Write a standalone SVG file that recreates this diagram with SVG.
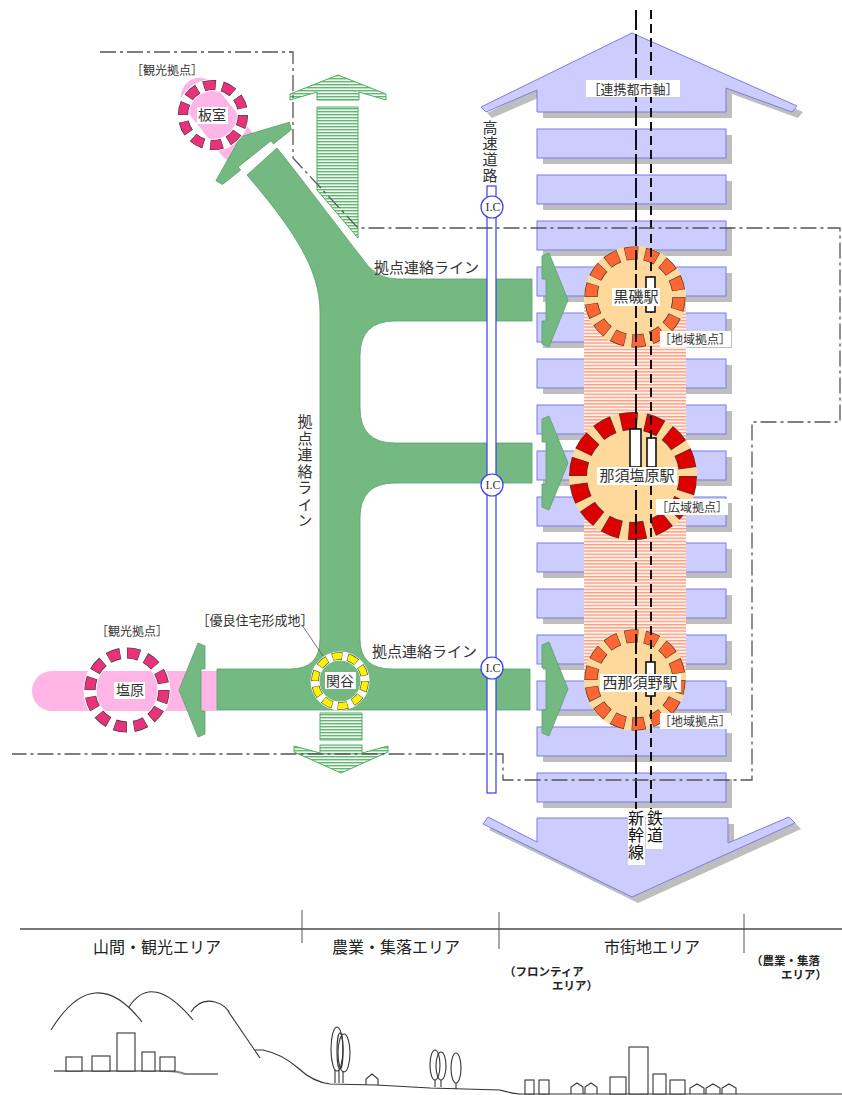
<svg xmlns="http://www.w3.org/2000/svg" width="842" height="1095" viewBox="0 0 842 1095">
  <style>
    .lbl { font-family: "Noto Sans CJK JP", "Noto Sans", sans-serif; fill: #333; }
    .area { font-family: "Noto Sans CJK JP", "Noto Sans", sans-serif; fill: #222; }
    .sub { font-family: "Noto Sans CJK JP", "Noto Sans", sans-serif; fill: #222; font-weight: bold; font-size: 11.5px; }
    .vert { writing-mode: vertical-rl; }
    .bar { fill: #CCCCFF; stroke: #7B7BEA; stroke-width: 1; }
    .shadow { fill: #BEBEBE; }
    .road { fill: #74B982; stroke: #5C9F6B; stroke-width: 0.8; }
    .hatch { fill: url(#greenHatch); stroke: #4FAE60; stroke-width: 1; }
    .bg { fill: #fff; }
    .scene { fill: none; stroke: #333; stroke-width: 1.1; }
    .bldg { fill: #fff; stroke: #333; stroke-width: 1.1; }
    .rail { fill: none; stroke: #111; stroke-width: 2; }
    .hwy { fill: #fff; stroke: #3B3BF0; stroke-width: 1.2; }
    .stn { fill: #fff; stroke: #111; stroke-width: 1.6; }
  </style>
  <defs>
    <pattern id="greenHatch" width="6" height="3" patternUnits="userSpaceOnUse">
      <rect width="6" height="3" fill="#F2FAF3"/>
      <rect y="0" width="6" height="1.4" fill="#63B873"/>
    </pattern>
    <pattern id="salmonHatch" width="6" height="3.2" patternUnits="userSpaceOnUse">
      <rect width="6" height="3.2" fill="#FFF1EB"/>
      <rect y="0" width="6" height="1.3" fill="#FF9C7E"/>
    </pattern>
    <polygon id="chev" class="road" points="542,-44 549,-47 568,0 549,47 542,44 542,21 546,21 546,-21 542,-21"/>
  </defs>

  <!-- area strip along the bottom -->
  <g id="areas">
    <line x1="20" y1="929" x2="842" y2="929" stroke="#777" stroke-width="2"/>
    <line x1="302" y1="910" x2="302" y2="943" stroke="#555" stroke-width="1"/>
    <line x1="499" y1="912" x2="499" y2="949" stroke="#555" stroke-width="1"/>
    <line x1="744" y1="914" x2="744" y2="953" stroke="#555" stroke-width="1"/>
    <text class="area" x="157" y="953" font-size="16" text-anchor="middle">山間・観光エリア</text>
    <text class="area" x="396" y="953" font-size="16" text-anchor="middle">農業・集落エリア</text>
    <text class="area" x="652" y="953" font-size="16" text-anchor="middle">市街地エリア</text>
    <text class="sub" x="504" y="976">（フロンティア</text>
    <text class="sub" x="552" y="990">エリア）</text>
    <text class="sub" x="751" y="965">（農業・集落</text>
    <text class="sub" x="781" y="979">エリア）</text>
  </g>

  <!-- landscape silhouette -->
  <g id="landscape">
    <path class="scene" d="M51,1030 Q94,960 142,1022"/>
    <path class="scene" d="M129,1007 Q152,971 193,1020"/>
    <path class="scene" d="M191,1012 Q200,998 215,1002 Q226,1005 230,1014 L260,1058"/>
    <path class="scene" d="M255,1050 L263,1050 Q282,1054 298,1068 Q313,1082 330,1084 L376,1085 L430,1088 L500,1090 Q510,1093 520,1094 L842,1094"/>
    <path d="M54,1071 L166,1071 Q178,1071 185,1074 L218,1074" fill="none" stroke="#888" stroke-width="2"/>
    <rect class="bldg" x="66" y="1057" width="16" height="14"/>
    <rect class="bldg" x="92" y="1056" width="18" height="15"/>
    <rect class="bldg" x="117" y="1033" width="18" height="38"/>
    <rect class="bldg" x="142" y="1052" width="13" height="19"/>
    <rect class="bldg" x="160" y="1057" width="15" height="14"/>
    <ellipse class="scene" cx="337" cy="1049" rx="6" ry="22"/>
    <ellipse class="scene" cx="344" cy="1053" rx="6" ry="19"/>
    <ellipse class="scene" cx="340" cy="1051" rx="3" ry="18"/>
    <path class="scene" d="M335,1070 V1083 M339,1070 V1083 M343,1071 V1083"/>
    <path class="scene" d="M366,1085 V1079 L372,1074 L378,1079 V1085"/>
    <ellipse class="scene" cx="435" cy="1065" rx="5" ry="15"/>
    <ellipse class="scene" cx="441" cy="1066" rx="5" ry="14"/>
    <ellipse class="scene" cx="456" cy="1068" rx="5" ry="15"/>
    <path class="scene" d="M435,1080 V1087 M441,1080 V1087 M456,1083 V1089"/>
    <rect class="bldg" x="525" y="1080" width="9" height="14"/>
    <rect class="bldg" x="539" y="1080" width="10" height="14"/>
    <path class="scene" d="M571,1094 V1087 L577,1083 L583,1087 V1094 M585,1094 V1087 L591,1083 L597,1087 V1094"/>
    <rect class="bldg" x="610" y="1077" width="16" height="17"/>
    <rect class="bldg" x="629" y="1047" width="19" height="47"/>
    <rect class="bldg" x="653" y="1074" width="13" height="20"/>
    <rect class="bldg" x="670" y="1080" width="15" height="14"/>
    <path class="scene" d="M690,1094 V1088 L697,1084 L704,1088 V1094 M706,1094 V1088 L713,1084 L720,1088 V1094 M722,1094 V1088 L729,1084 L736,1088 V1094"/>
  </g>

  <!-- urban axis: arrows and city blocks -->
  <g id="axis">
    <polygon class="shadow" transform="translate(6,6)" points="632,33 797,106 792,112 726,88 726,112 537,112 537,90 486,112 481,107"/>
    <polygon class="shadow" transform="translate(6,6)" points="537,818 728,818 728,843 789,817 795,823 632,897 483,824 488,817 537,842"/>
    <g class="shadow" transform="translate(6,6)">
      <rect x="537" y="129" width="189" height="29"/><rect x="537" y="175" width="189" height="29"/>
      <rect x="537" y="221" width="189" height="29"/><rect x="537" y="267" width="189" height="29"/>
      <rect x="537" y="313" width="189" height="29"/><rect x="537" y="359" width="189" height="29"/>
      <rect x="537" y="405" width="189" height="29"/><rect x="537" y="451" width="189" height="29"/>
      <rect x="537" y="497" width="189" height="29"/><rect x="537" y="543" width="189" height="29"/>
      <rect x="537" y="589" width="189" height="29"/><rect x="537" y="635" width="189" height="29"/>
      <rect x="537" y="681" width="189" height="29"/><rect x="537" y="727" width="189" height="29"/>
      <rect x="537" y="773" width="189" height="29"/>
    </g>
    <polygon class="bar" points="632,33 797,106 792,112 726,88 726,112 537,112 537,90 486,112 481,107"/>
    <polygon class="bar" points="537,818 728,818 728,843 789,817 795,823 632,897 483,824 488,817 537,842"/>
    <g class="bar">
      <rect x="537" y="129" width="189" height="29"/><rect x="537" y="175" width="189" height="29"/>
      <rect x="537" y="221" width="189" height="29"/><rect x="537" y="267" width="189" height="29"/>
      <rect x="537" y="313" width="189" height="29"/><rect x="537" y="359" width="189" height="29"/>
      <rect x="537" y="405" width="189" height="29"/><rect x="537" y="451" width="189" height="29"/>
      <rect x="537" y="497" width="189" height="29"/><rect x="537" y="543" width="189" height="29"/>
      <rect x="537" y="589" width="189" height="29"/><rect x="537" y="635" width="189" height="29"/>
      <rect x="537" y="681" width="189" height="29"/><rect x="537" y="727" width="189" height="29"/>
      <rect x="537" y="773" width="189" height="29"/>
    </g>
    <rect x="584" y="297" width="102" height="383" fill="url(#salmonHatch)"/>
  </g>

  <!-- tourist corridors -->
  <g id="pink-corridors">
    <rect x="0" y="-19" width="98" height="38" rx="19" fill="#FFB5E6" transform="translate(188,82) rotate(51.5)"/>
    <path d="M217,671 L52,671 A20,20 0 0 0 52,711 L217,711 Z" fill="#FFB5E6"/>
  </g>

  <!-- hub link lines -->
  <g id="links">
    <path class="road" d="M247,175 L277,148 C305,183 340,230 362,258 Q375,279 398,279 L532,279 L532,321 L395,321 Q360,321 360,356 L360,408 Q360,443 395,443 L532,443 L532,483 L395,483 Q360,483 360,518 L360,639 Q360,669 392,669 L530,669 L530,710 L217,710 L217,669 L290,669 Q320,669 320,639 L320,312 C320,268 292,228 247,175 Z"/>
    <use href="#chev" transform="translate(257,157) rotate(-128.5) translate(-542,0)"/>
    <use href="#chev" transform="translate(0,300)"/>
    <use href="#chev" transform="translate(0,463)"/>
    <use href="#chev" transform="translate(0,689)"/>
    <use href="#chev" transform="translate(747,690) scale(-1,1)"/>
    <polygon class="hatch" points="338,75 386,94 386,100 359,92 359,100 317,100 317,92 290,100 290,94"/>
    <polygon class="hatch" points="317,107 358,107 358,238 317,190"/>
    <polygon class="hatch" points="320,713 362,713 362,740 320,740"/>
    <polygon class="hatch" points="320,745 362,745 362,753 388,746 388,752 341,773 294,752 294,746 320,753"/>
  </g>

  <!-- expressway with interchanges -->
  <g id="expressway">
    <rect class="hwy" x="487" y="186" width="9" height="607"/>
    <circle class="hwy" cx="492" cy="207" r="11"/>
    <circle class="hwy" cx="492" cy="485" r="11"/>
    <circle class="hwy" cx="492" cy="668" r="11"/>
    <g font-family="Liberation Serif, serif" font-size="12" fill="#333" text-anchor="middle">
      <text x="493" y="211">I.C</text>
      <text x="493" y="489">I.C</text>
      <text x="493" y="672">I.C</text>
    </g>
    <text class="lbl vert" x="490" y="120" font-size="15" letter-spacing="1">高速道路</text>
  </g>

  <!-- stations -->
  <g id="node-kuroiso">
    <circle cx="635" cy="297" r="51" fill="#FFD99B"/>
    <circle cx="635" cy="297" r="44" fill="none" stroke="#3a3a3a" stroke-width="13.2" pathLength="140" stroke-dasharray="6.6 3.4"/>
    <circle cx="635" cy="297" r="44" fill="none" stroke="#FF6633" stroke-width="11.8" pathLength="140" stroke-dasharray="6.1 3.9" stroke-dashoffset="-0.25"/>
  </g>
  <g id="node-nasushiobara">
    <circle cx="633" cy="476" r="64" fill="#FFD99B"/>
    <circle cx="633" cy="476" r="55" fill="none" stroke="#3a3a3a" stroke-width="18" pathLength="140" stroke-dasharray="6.8 3.2"/>
    <circle cx="633" cy="476" r="55" fill="none" stroke="#DD0000" stroke-width="16.6" pathLength="140" stroke-dasharray="6.4 3.6" stroke-dashoffset="-0.2"/>
  </g>
  <g id="node-nishinasuno">
    <circle cx="635" cy="680" r="51" fill="#FFD99B"/>
    <circle cx="635" cy="680" r="44" fill="none" stroke="#3a3a3a" stroke-width="13.2" pathLength="140" stroke-dasharray="6.6 3.4"/>
    <circle cx="635" cy="680" r="44" fill="none" stroke="#FF6633" stroke-width="11.8" pathLength="140" stroke-dasharray="6.1 3.9" stroke-dashoffset="-0.25"/>
  </g>

  <!-- railways -->
  <g id="railways">
    <line class="rail" x1="636" y1="10" x2="636" y2="810" stroke-dasharray="20 4"/>
    <line class="rail" x1="651" y1="10" x2="651" y2="810" stroke-dasharray="9 5"/>
    <rect class="stn" x="646" y="277" width="9" height="35"/>
    <rect class="stn" x="630" y="429" width="11" height="38"/>
    <rect class="stn" x="647" y="438" width="9" height="29"/>
    <rect class="stn" x="646" y="662" width="9" height="34"/>
    <rect class="bg" x="628" y="809" width="17" height="56"/>
    <rect class="bg" x="646" y="809" width="17" height="40"/>
    <text class="vert" x="636" y="810" font-family="Noto Sans CJK JP, sans-serif" font-size="16" fill="#111" letter-spacing="1">新幹線</text>
    <text class="vert" x="655" y="810" font-family="Noto Sans CJK JP, sans-serif" font-size="16" fill="#111" letter-spacing="1">鉄道</text>
  </g>

  <!-- zone boundary -->
  <path id="boundary" d="M100,52 H293 V158 L358,228 H840 V422 H752 V780 H503 V754 H12" fill="none" stroke="#555" stroke-width="1.3" stroke-dasharray="16 4 3 4"/>

  <!-- local hubs -->
  <g id="node-itamuro">
    <circle cx="213" cy="115" r="30" fill="none" stroke="#fff" stroke-width="12"/>
    <circle cx="213" cy="115" r="30" fill="none" stroke="#3a3a3a" stroke-width="10.2" pathLength="100" stroke-dasharray="6.5 3.5"/>
    <circle cx="213" cy="115" r="30" fill="none" stroke="#E8337A" stroke-width="8.8" pathLength="100" stroke-dasharray="6 4" stroke-dashoffset="-0.25"/>
  </g>
  <g id="node-shiobara">
    <circle cx="127" cy="690" r="37" fill="none" stroke="#fff" stroke-width="13"/>
    <circle cx="127" cy="690" r="37" fill="none" stroke="#3a3a3a" stroke-width="11.2" pathLength="120" stroke-dasharray="6.5 3.5"/>
    <circle cx="127" cy="690" r="37" fill="none" stroke="#E8337A" stroke-width="9.8" pathLength="120" stroke-dasharray="6 4" stroke-dashoffset="-0.25"/>
  </g>
  <g id="node-sekiya">
    <circle cx="340" cy="681" r="25" fill="none" stroke="#fff" stroke-width="9"/>
    <circle cx="340" cy="681" r="25" fill="none" stroke="#3a3a3a" stroke-width="7.6" pathLength="100" stroke-dasharray="6.5 3.5"/>
    <circle cx="340" cy="681" r="25" fill="none" stroke="#FFF200" stroke-width="6.4" pathLength="100" stroke-dasharray="6 4" stroke-dashoffset="-0.25"/>
    <line x1="302" y1="625" x2="323" y2="656" stroke="#555" stroke-width="0.8"/>
  </g>

  <!-- labels -->
  <g id="labels">
    <rect class="bg" x="586" y="80" width="94" height="17"/>
    <rect class="bg" x="612" y="288" width="48" height="18"/>
    <rect class="bg" x="660" y="331" width="71" height="16"/>
    <rect class="bg" x="597" y="467" width="80" height="18"/>
    <rect class="bg" x="656" y="499" width="72" height="16"/>
    <rect class="bg" x="600" y="674" width="81" height="18"/>
    <rect class="bg" x="660" y="713" width="71" height="16"/>
    <rect class="bg" x="197" y="107" width="31" height="17"/>
    <rect class="bg" x="114" y="682" width="31" height="17"/>
    <rect class="bg" x="325" y="672" width="31" height="17"/>
    <g class="lbl">
      <text x="633" y="94" font-size="13" text-anchor="middle">［連携都市軸］</text>
      <text x="636" y="302" font-size="15" text-anchor="middle">黒磯駅</text>
      <text x="695" y="344" font-size="12" text-anchor="middle">［地域拠点］</text>
      <text x="637" y="481" font-size="15" text-anchor="middle">那須塩原駅</text>
      <text x="692" y="512" font-size="12" text-anchor="middle">［広域拠点］</text>
      <text x="640" y="688" font-size="15" text-anchor="middle">西那須野駅</text>
      <text x="695" y="726" font-size="12" text-anchor="middle">［地域拠点］</text>
      <text x="167" y="75" font-size="12" text-anchor="middle">［観光拠点］</text>
      <text x="212" y="120" font-size="14" text-anchor="middle">板室</text>
      <text x="132" y="636" font-size="12" text-anchor="middle">［観光拠点］</text>
      <text x="130" y="695" font-size="14" text-anchor="middle">塩原</text>
      <text x="255" y="625" font-size="13" text-anchor="middle">［優良住宅形成地］</text>
      <text x="340" y="686" font-size="14" text-anchor="middle">関谷</text>
      <text x="374" y="273" font-size="15">拠点連絡ライン</text>
      <text x="372" y="657" font-size="15">拠点連絡ライン</text>
      <text class="vert" x="305" y="414" font-size="15" letter-spacing="1.5">拠点連絡ライン</text>
    </g>
  </g>
</svg>
